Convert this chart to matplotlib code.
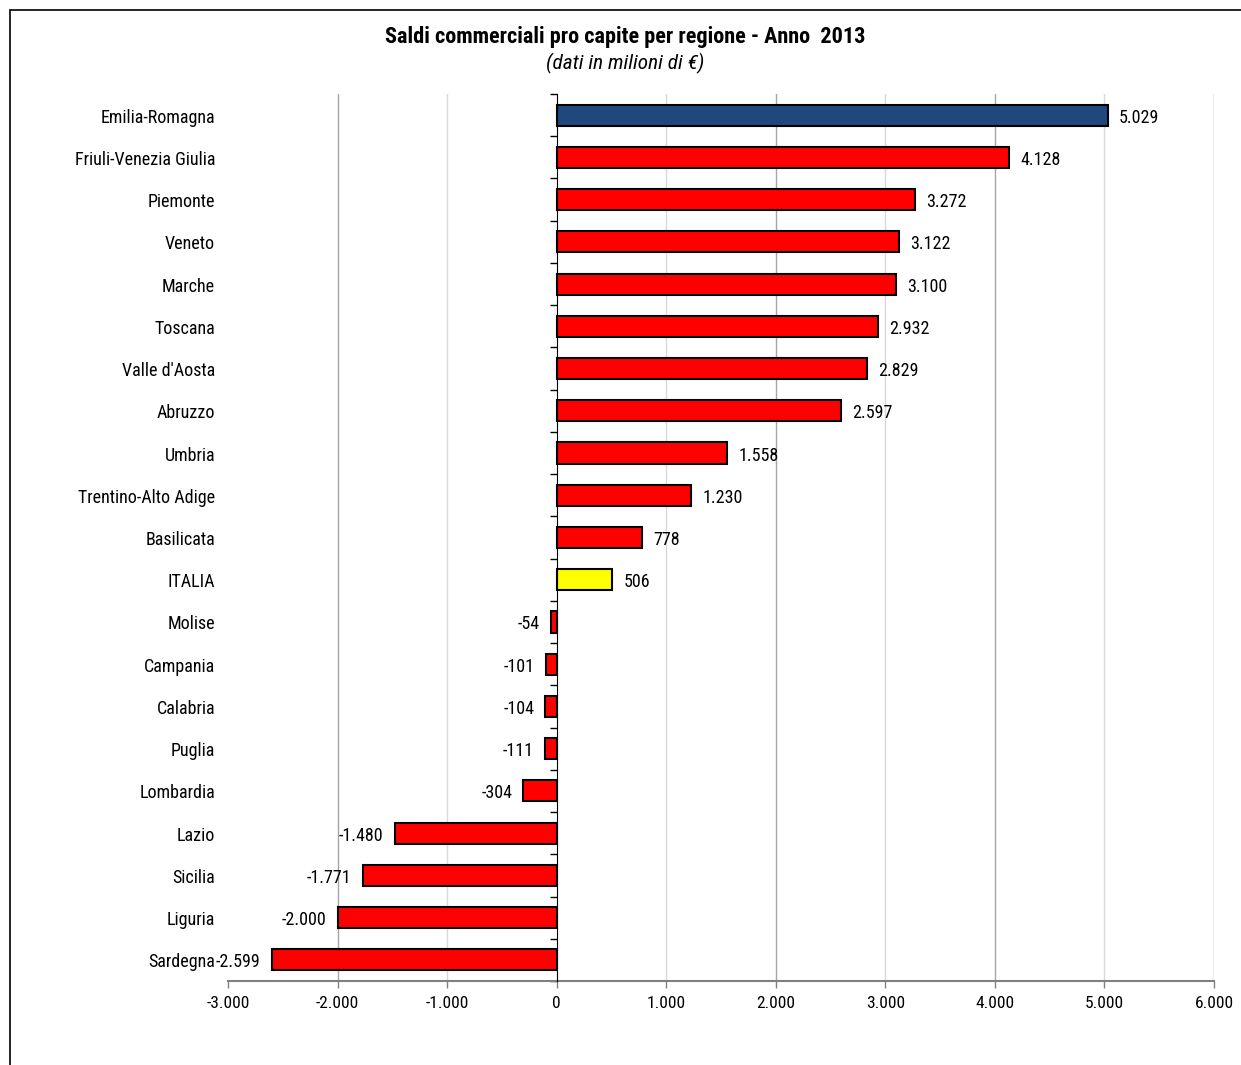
import matplotlib
matplotlib.use("Agg")
import matplotlib.pyplot as plt
from matplotlib.patches import Rectangle
from matplotlib.ticker import FixedLocator, FuncFormatter
import numpy as np

plt.rcParams["font.family"] = ["Roboto Condensed", "Archivo Narrow", "DejaVu Sans"]

# ─── Data ─────────────────────────────────────────────────────────────────────
regions = ["Emilia-Romagna", "Friuli-Venezia Giulia", "Piemonte", "Veneto",
           "Marche", "Toscana", "Valle d'Aosta", "Abruzzo", "Umbria",
           "Trentino-Alto Adige", "Basilicata", "ITALIA", "Molise",
           "Campania", "Calabria", "Puglia", "Lombardia", "Lazio",
           "Sicilia", "Liguria", "Sardegna"]
values = [5029, 4128, 3272, 3122, 3100, 2932, 2829, 2597, 1558, 1230, 778,
          506, -54, -101, -104, -111, -304, -1480, -1771, -2000, -2599]
x_ticks = [-3000, -2000, -1000, 0, 1000, 2000, 3000, 4000, 5000, 6000]

RED, BLUE, YELLOW = "#ff0000", "#1f497d", "#ffff00"


def fmt_it(v):
    # Italian thousands separator
    return f"{v:,.0f}".replace(",", ".")


colors = [BLUE if r == "Emilia-Romagna" else YELLOW if r == "ITALIA" else RED
          for r in regions]

fig = plt.figure(figsize=(12.41, 10.65), dpi=100, facecolor="white")
ax = fig.add_axes([228 / 1241, 1 - 981 / 1065, (1214 - 228) / 1241, (981 - 94) / 1065])

y = np.arange(len(regions))
ax.barh(y, values, height=0.5, color=colors, edgecolor="black", linewidth=1.5, zorder=3)

ax.set_xlim(x_ticks[0], x_ticks[-1])
ax.set_ylim(len(regions) - 0.5, -0.5)

# gridlines: darker on even thousands, lighter on odd
for t in x_ticks[1:]:
    if t == 0:
        continue
    ax.axvline(t, color="#a6a6a6" if t % 2000 == 0 else "#d9d9d9", lw=1, zorder=1)

# x axis
ax.xaxis.set_major_locator(FixedLocator(x_ticks))
ax.xaxis.set_major_formatter(FuncFormatter(lambda v, p: fmt_it(v)))
ax.tick_params(axis="x", length=5, width=1, color="#808080", labelsize=12.5, pad=6)
ax.spines["bottom"].set_color("#808080")
ax.spines["bottom"].set_linewidth(1.5)
for s in ["top", "right"]:
    ax.spines[s].set_visible(False)

# category axis sits at zero, ticks between categories
ax.spines["left"].set_position(("data", 0))
ax.spines["left"].set_color("black")
ax.spines["left"].set_zorder(4)
ax.yaxis.set_major_locator(FixedLocator(y))
ax.yaxis.set_minor_locator(FixedLocator(np.arange(len(regions) + 1) - 0.5))
ax.tick_params(axis="y", which="major", length=0, labelleft=False)
ax.tick_params(axis="y", which="minor", length=5, width=1, color="black")

ytr = ax.get_yaxis_transform()
for yi, r in zip(y, regions):
    ax.annotate(r, (-0.013, yi), xycoords=ytr, xytext=(0, -1.8), textcoords="offset points",
                ha="right", va="center", fontsize=13)

# value labels
for yi, v in zip(y, values):
    if v >= 0:
        ax.annotate(fmt_it(v), (v, yi), xytext=(8, -1.8), textcoords="offset points",
                    ha="left", va="center", fontsize=13, zorder=5)
    else:
        ax.annotate(fmt_it(v), (v, yi), xytext=(-8, -1.8), textcoords="offset points",
                    ha="right", va="center", fontsize=13, zorder=5)

fig.text(0.504, 1 - 37 / 1065, "Saldi commerciali pro capite per regione - Anno  2013",
         ha="center", va="center", fontsize=16, fontweight="bold")
fig.text(0.504, 1 - 63 / 1065, "(dati in milioni di €)",
         ha="center", va="center", fontsize=15.3, style="italic")

# outer frame (partly outside the picture)
fig.patches.append(Rectangle((10 / 1241, -0.1), 1.2, 1.1 - 10 / 1065,
                             transform=fig.transFigure, fill=False,
                             edgecolor="black", linewidth=1.2))

plt.savefig("out.png", dpi=100, facecolor="white")
plt.close()
